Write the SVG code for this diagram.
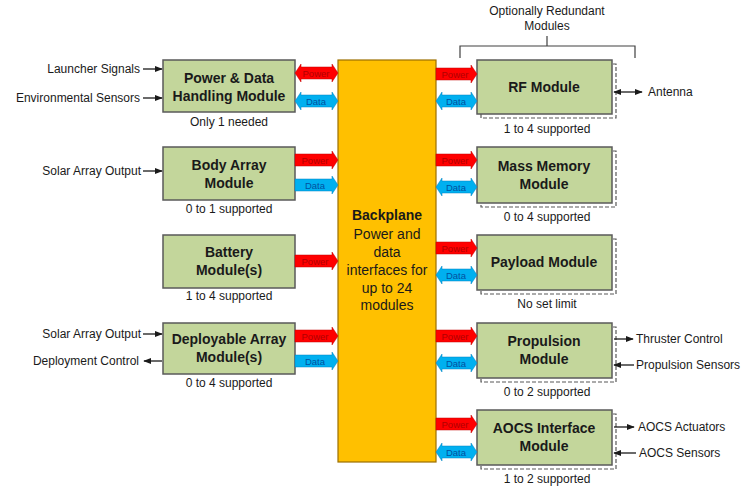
<svg xmlns="http://www.w3.org/2000/svg" width="755" height="487" viewBox="0 0 755 487">
<style>
text{font-family:"Liberation Sans",Arial,sans-serif;fill:#1a1a1a}
.mod{fill:#c3d69b;stroke:#5a5a5a;stroke-width:1.5}
.sh{fill:#ffffff;stroke:#595959;stroke-width:1.2;stroke-dasharray:4 2}
.t{font-size:14px;font-weight:bold;text-anchor:middle}
.s{font-size:12px;text-anchor:middle}
.e{font-size:12px}
.er{font-size:12px;text-anchor:end}
.pw{fill:#ff0000;stroke:#c00000;stroke-width:0.5}
.da{fill:#00b0f0;stroke:#0080c0;stroke-width:0.5}
.pl{font-size:9.5px;text-anchor:middle;fill:#b00000}
.dl{font-size:9.5px;text-anchor:middle;fill:#0050a0}
.ln{stroke:#1a1a1a;stroke-width:1.3;fill:none}
</style>
<defs>
<marker id="ah" viewBox="0 0 10 10" refX="9" refY="5" markerWidth="8" markerHeight="8" markerUnits="userSpaceOnUse" orient="auto-start-reverse"><path d="M0,1 L10,5 L0,9 z" fill="#1a1a1a"/></marker>
<path id="sr" d="M0,-6 L37,-6 L37,-9 L43,0 L37,9 L37,6 L0,6 z"/>
<path id="db" d="M0,0 L6,-9 L6,-6 L37,-6 L37,-9 L43,0 L37,9 L37,6 L6,6 L6,9 z"/>
<path id="srR" d="M0,-6 L35,-6 L35,-9 L41,0 L35,9 L35,6 L0,6 z"/>
<path id="dbR" d="M0,0 L6,-9 L6,-6 L35,-6 L35,-9 L41,0 L35,9 L35,6 L6,6 L6,9 z"/>
</defs>
<rect width="755" height="487" fill="#ffffff"/>

<g id="backplane">
<rect x="338" y="60" width="98" height="402" fill="#ffc000" stroke="#9c6f00" stroke-width="1.2"/>
<text x="387" y="220" class="t">Backplane</text>
<text x="387" y="239" font-size="14" text-anchor="middle">Power and</text>
<text x="387" y="257" font-size="14" text-anchor="middle">data</text>
<text x="387" y="275" font-size="14" text-anchor="middle">interfaces for</text>
<text x="387" y="293" font-size="14" text-anchor="middle">up to 24</text>
<text x="387" y="310" font-size="14" text-anchor="middle">modules</text>
</g>

<g id="pdh">
<rect x="163" y="60" width="132" height="52" class="mod"/>
<text x="229" y="83" class="t">Power &amp; Data</text>
<text x="229" y="101" class="t">Handling Module</text>
<text x="229" y="126" class="s">Only 1 needed</text>
</g>
<g id="body">
<rect x="163" y="147" width="132" height="53" class="mod"/>
<text x="229" y="170" class="t">Body Array</text>
<text x="229" y="188" class="t">Module</text>
<text x="229" y="213" class="s">0 to 1 supported</text>
</g>
<g id="battery">
<rect x="163" y="235" width="132" height="53" class="mod"/>
<text x="229" y="257" class="t">Battery</text>
<text x="229" y="275" class="t">Module(s)</text>
<text x="229" y="300" class="s">1 to 4 supported</text>
</g>
<g id="deploy">
<rect x="163" y="323" width="132" height="51" class="mod"/>
<text x="229" y="344" class="t">Deployable Array</text>
<text x="229" y="362" class="t">Module(s)</text>
<text x="229" y="387" class="s">0 to 4 supported</text>
</g>

<g id="rf">
<rect x="481" y="64" width="135" height="54" class="sh"/>
<rect x="477" y="60" width="135" height="54" class="mod"/>
<text x="544" y="92" class="t">RF Module</text>
<text x="547" y="133" class="s">1 to 4 supported</text>
</g>
<g id="mass">
<rect x="481" y="151" width="135" height="56" class="sh"/>
<rect x="477" y="147" width="135" height="56" class="mod"/>
<text x="544" y="171" class="t">Mass Memory</text>
<text x="544" y="189" class="t">Module</text>
<text x="547" y="221" class="s">0 to 4 supported</text>
</g>
<g id="payload">
<rect x="481" y="239" width="135" height="55" class="sh"/>
<rect x="477" y="235" width="135" height="55" class="mod"/>
<text x="544" y="267" class="t">Payload Module</text>
<text x="547" y="308" class="s">No set limit</text>
</g>
<g id="propulsion">
<rect x="481" y="327" width="135" height="55" class="sh"/>
<rect x="477" y="323" width="135" height="55" class="mod"/>
<text x="544" y="346" class="t">Propulsion</text>
<text x="544" y="364" class="t">Module</text>
<text x="547" y="396" class="s">0 to 2 supported</text>
</g>
<g id="aocs">
<rect x="481" y="414" width="135" height="55" class="sh"/>
<rect x="477" y="410" width="135" height="55" class="mod"/>
<text x="544" y="433" class="t">AOCS Interface</text>
<text x="544" y="451" class="t">Module</text>
<text x="547" y="483" class="s">1 to 2 supported</text>
</g>

<g id="bracket">
<path d="M460,58 L460,46 L635,46 L635,58 M547,46 L547,36" stroke="#404040" stroke-width="1.2" fill="none"/>
<text x="547" y="15" class="s">Optionally Redundant</text>
<text x="547" y="30" class="s">Modules</text>
</g>

<g id="connectors">
<use href="#db" x="295" y="73" class="pw"/><text x="316" y="76.5" class="pl">Power</text>
<use href="#db" x="295" y="101" class="da"/><text x="316" y="104.5" class="dl">Data</text>
<use href="#sr" x="295" y="160" class="pw"/><text x="315" y="163.5" class="pl">Power</text>
<use href="#sr" x="295" y="185" class="da"/><text x="315" y="188.5" class="dl">Data</text>
<use href="#sr" x="295" y="261" class="pw"/><text x="315" y="264.5" class="pl">Power</text>
<use href="#sr" x="295" y="336" class="pw"/><text x="315" y="339.5" class="pl">Power</text>
<use href="#sr" x="295" y="361" class="da"/><text x="315" y="364.5" class="dl">Data</text>
<use href="#srR" x="436" y="74" class="pw"/><text x="455" y="77.5" class="pl">Power</text>
<use href="#dbR" x="436" y="101" class="da"/><text x="456" y="104.5" class="dl">Data</text>
<use href="#srR" x="436" y="160" class="pw"/><text x="455" y="163.5" class="pl">Power</text>
<use href="#dbR" x="436" y="187" class="da"/><text x="456" y="190.5" class="dl">Data</text>
<use href="#srR" x="436" y="248" class="pw"/><text x="455" y="251.5" class="pl">Power</text>
<use href="#dbR" x="436" y="275" class="da"/><text x="456" y="278.5" class="dl">Data</text>
<use href="#srR" x="436" y="336" class="pw"/><text x="455" y="339.5" class="pl">Power</text>
<use href="#dbR" x="436" y="363" class="da"/><text x="456" y="366.5" class="dl">Data</text>
<use href="#srR" x="436" y="424" class="pw"/><text x="455" y="427.5" class="pl">Power</text>
<use href="#dbR" x="436" y="452" class="da"/><text x="456" y="455.5" class="dl">Data</text>
<line x1="143" y1="69" x2="162" y2="69" class="ln" marker-end="url(#ah)"/>
<line x1="143" y1="98" x2="162" y2="98" class="ln" marker-end="url(#ah)"/>
<line x1="143" y1="171" x2="162" y2="171" class="ln" marker-end="url(#ah)"/>
<line x1="143" y1="334" x2="162" y2="334" class="ln" marker-end="url(#ah)"/>
<line x1="162" y1="361" x2="144" y2="361" class="ln" marker-end="url(#ah)"/>
<line x1="614" y1="92" x2="642" y2="92" class="ln" marker-start="url(#ah)" marker-end="url(#ah)"/>
<line x1="614" y1="339" x2="633" y2="339" class="ln" marker-end="url(#ah)"/>
<line x1="634" y1="365" x2="614" y2="365" class="ln" marker-end="url(#ah)"/>
<line x1="614" y1="427" x2="634" y2="427" class="ln" marker-end="url(#ah)"/>
<line x1="636" y1="453" x2="614" y2="453" class="ln" marker-end="url(#ah)"/>
</g>

<g id="labels">
<text x="140" y="73" class="er">Launcher Signals</text>
<text x="140" y="102" class="er">Environmental Sensors</text>
<text x="141" y="175" class="er">Solar Array Output</text>
<text x="141" y="338" class="er">Solar Array Output</text>
<text x="139" y="365" class="er">Deployment Control</text>
<text x="648" y="96" class="e">Antenna</text>
<text x="636" y="343" class="e">Thruster Control</text>
<text x="636" y="369" class="e">Propulsion Sensors</text>
<text x="638" y="431" class="e">AOCS Actuators</text>
<text x="639" y="457" class="e">AOCS Sensors</text>
</g>
</svg>
